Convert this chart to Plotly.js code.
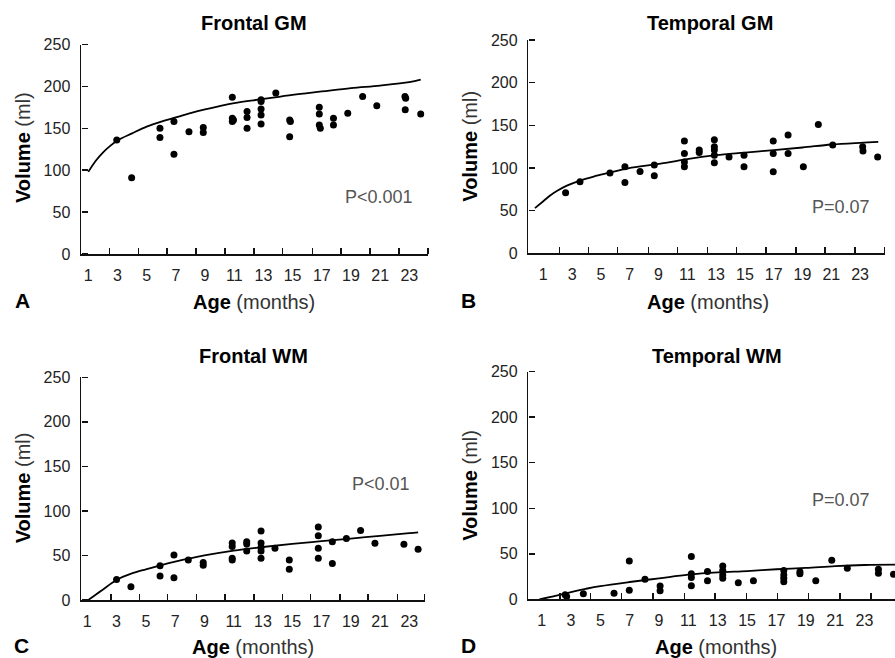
<!DOCTYPE html>
<html><head><meta charset="utf-8">
<script src="https://cdn.plot.ly/plotly-3.0.1.min.js"></script>
<style>html,body{margin:0;padding:0;background:#fff}#chart{width:895px;height:658px}</style>
</head><body><div id="chart"></div>
<script>
// ---------- data (age in months, volume in ml) ----------
const panelTitles = ["Frontal GM", "Temporal GM", "Frontal WM", "Temporal WM"];
const panelLetters = ["A", "B", "C", "D"];
const pValues = ["P&lt;0.001", "P=0.07", "P&lt;0.01", "P=0.07"];
const xTickLabels = [1,3,5,7,9,11,13,15,17,19,21,23];
const yTickValues = [0,50,100,150,200,250];

const ageA = [2.95,3.97,5.91,5.91,6.87,6.87,7.9,8.88,8.88,10.87,10.87,10.87,10.95,11.88,11.88,11.88,12.84,12.84,12.84,12.84,12.84,13.85,14.8,14.85,14.8,16.83,16.83,16.83,16.9,17.8,17.8,18.78,19.8,20.77,22.7,22.75,22.72,23.78];
const volA = [136,91,150,139,158,119,146,151,145,187,162,158,160,170,163,150,184,182,173,166,155,192,160,158,140,175,167,154,150,162,154,168,188,177,188,186,172,167];
const fitAgeA = [1,1.5,2,2.5,3,4,5,6,7,8,9,10,11,13,15,17,19,21,23,23.78];
const fitVolA = [98,111,121,129,135.5,144,152,158,163,168,172.5,176.5,180,185,190,194,198,201,205,208];

const ageB = [2.55,3.55,5.63,6.67,6.67,7.72,8.71,8.71,10.8,10.8,10.8,10.8,11.83,11.83,12.88,12.88,12.88,12.88,12.88,13.9,14.94,14.94,16.97,16.97,16.97,18.0,18.0,19.06,20.1,21.1,23.18,23.2,24.22];
const volB = [71,84,94,101.5,83,96,103.5,91,131.6,117,107,101.5,121,118,133,125,121,115,106,113,115,101.5,131.6,117,95.6,138.6,117,101.5,151,127,125,120,113];
const fitAgeB = [0.42,1,1.5,2,2.6,3.5,4.5,5.6,6.7,8,9.5,11,13,15,17,19,21,23,24.26];
const fitVolB = [53,61,68,73.5,79,85,90,94.5,99,102.5,106,110.5,115,118,121,124,127.5,129.5,130.5];

const ageC = [3.0,3.98,5.97,5.97,6.92,6.92,7.9,8.92,8.92,10.9,10.9,10.9,10.9,11.89,11.89,11.89,12.87,12.87,12.87,12.87,12.87,13.82,14.8,14.8,16.78,16.78,16.78,16.78,17.74,17.74,18.7,19.67,20.65,22.63,23.6];
const volC = [23,15,38.5,27,50.5,25,45,42,39,64,60,47,45,65.5,63,55,77.5,64,59,55,47,58,45,34.5,82,72,58,47,65.5,41,69,78,63.6,62.5,57];
const fitAgeC = [1.07,2,3,4,5,6,7,9,11,13,15,17,19,21,23,23.6];
const fitVolC = [0,11,22.5,29.5,34.5,39,43,50,55.5,59.5,63,66,69,72,75,76];

const ageD = [2.6,2.7,3.84,5.93,6.97,6.97,8.04,9.07,9.07,11.2,11.2,11.2,11.2,12.3,12.3,13.34,13.34,13.34,13.34,14.4,15.43,17.5,17.5,17.5,17.5,18.6,18.6,19.68,20.77,21.83,23.95,23.95,24.98];
const volD = [5,3,6,6.6,42,10,22,14.6,9.5,47,28,24,15,30.5,20.5,36.6,31.5,26.7,23,18.3,20.5,31.5,26.7,23,19.3,30.3,28,20.5,43,34,33,28.5,27.5];
const fitAgeD = [0.84,2,3,4,5,7,9,11,13,15,17,19,21,23,25.1];
const fitVolD = [0,4,8,11.5,14.5,19,23,27,29.5,31,33,34.5,36.5,37.7,38];

// ---------- layout helpers ----------
const W = 895, H = 658;
const fx = x => x / W, fy = y => 1 - y / H;
const FONT = "Liberation Sans, Arial, sans-serif";

const panels = [
  {ages: ageA, vols: volA, fa: fitAgeA, fv: fitVolA},
  {ages: ageB, vols: volB, fa: fitAgeB, fv: fitVolB},
  {ages: ageC, vols: volC, fa: fitAgeC, fv: fitVolC},
  {ages: ageD, vols: volD, fa: fitAgeD, fv: fitVolD}
];

// pixel geometry of each plot frame, x ranges (months) and tick-mark positions
const geom = [
  {x0: 81, x1: 428.3, yTop: 44.5, yBot: 254, range: [0.5, 24.3],
   marks: [2.44,4.43,6.41,8.38,10.37,12.36,14.32,16.35,18.3,20.31,22.3,24.28]},
  {x0: 528.3, x1: 885, yTop: 40, yBot: 253.3, range: [-0.04, 24.73],
   marks: [2.11,4.13,6.17,8.29,10.33,12.39,14.43,16.47,18.55,20.55,22.63,24.7]},
  {x0: 81, x1: 425, yTop: 377.3, yBot: 600, range: [0.57, 24.07],
   marks: [2.62,4.55,6.49,8.47,10.41,12.39,14.35,16.26,18.26,20.19,22.2,24.05]},
  {x0: 528.3, x1: 895, yTop: 371.7, yBot: 599.3, range: [0.087, 25.08],
   marks: [2.25,4.34,6.45,8.6,10.72,12.81,14.97,17.06,19.17,21.33,23.45]}
];

const labelPos = [
  {title: [254, 22.7], age: [254, 301.7], vol: [23, 148], letter: [22, 301], p: [379, 196.7]},
  {title: [710, 22.7], age: [708.3, 301.7], vol: [470, 146.7], letter: [469, 301], p: [840.7, 206.7]},
  {title: [253.3, 355.7], age: [252.5, 647], vol: [23.3, 488], letter: [21.7, 645], p: [381, 484]},
  {title: [716.7, 355.7], age: [715.8, 647], vol: [470, 485.8], letter: [469, 645], p: [840.7, 500]}
];

const traces = [];
const layout = {
  width: W, height: H,
  margin: {l: 0, r: 0, t: 0, b: 0},
  paper_bgcolor: "#fff", plot_bgcolor: "rgba(0,0,0,0)",
  showlegend: false,
  font: {family: FONT, color: "#000"},
  annotations: []
};

panels.forEach((p, i) => {
  const n = i === 0 ? "" : String(i + 1);
  const k = String(i + 5);
  const g = geom[i];
  traces.push({
    type: "scatter", mode: "lines", x: p.fa, y: p.fv,
    xaxis: "x" + n, yaxis: "y" + n,
    line: {color: "#000", width: 1.8, shape: "spline", smoothing: 1},
    hoverinfo: "skip"
  });
  traces.push({
    type: "scatter", mode: "markers", x: p.ages, y: p.vols,
    xaxis: "x" + n, yaxis: "y" + n,
    marker: {color: "#000", size: 7, line: {width: 0}}
  });
  // empty trace that creates the overlay subplot used for the tick marks
  traces.push({type: "scatter", mode: "markers", x: [], y: [], xaxis: "x" + k, yaxis: "y" + k});

  // main axes: lines and labels
  layout["xaxis" + n] = {
    domain: [fx(g.x0), fx(g.x1)], range: g.range, anchor: "y" + n,
    tickmode: "array", tickvals: xTickLabels, ticktext: xTickLabels.map(String),
    ticks: "", showgrid: false, zeroline: false,
    showline: true, linecolor: "#111", linewidth: 1.5,
    tickfont: {family: FONT, size: 16, color: "#222"},
    ticklabelstandoff: 6,
    fixedrange: true
  };
  layout["yaxis" + n] = {
    domain: [fy(g.yBot), fy(g.yTop)], range: [0, 250], anchor: "x" + n,
    tickmode: "array", tickvals: yTickValues,
    ticks: "", showgrid: false, zeroline: false,
    showline: true, linecolor: "#111", linewidth: 1.5,
    tickfont: {family: FONT, size: 16, color: "#222"},
    ticklabelstandoff: 6,
    fixedrange: true
  };
  // overlay axes: tick marks pointing into the plot
  layout["xaxis" + k] = {
    overlaying: "x" + n, side: "top", anchor: "free", position: fy(g.yBot),
    range: g.range, tickmode: "array", tickvals: g.marks,
    ticks: "outside", ticklen: 6, tickwidth: 1.5, tickcolor: "#111",
    showticklabels: false, showline: false, showgrid: false, zeroline: false,
    fixedrange: true
  };
  layout["yaxis" + k] = {
    overlaying: "y" + n, side: "right", anchor: "free", position: fx(g.x0),
    range: [0, 250], tickmode: "array", tickvals: yTickValues,
    ticks: "outside", ticklen: 6, tickwidth: 1.5, tickcolor: "#111",
    showticklabels: false, showline: false, showgrid: false, zeroline: false,
    fixedrange: true
  };
  const L = labelPos[i];
  const ann = (pos, text, size, extra) => Object.assign({
    xref: "paper", yref: "paper", x: fx(pos[0]), y: fy(pos[1]),
    xanchor: "center", yanchor: "middle", showarrow: false, text: text,
    font: {family: FONT, size: size, color: "#000"}
  }, extra || {});
  layout.annotations.push(ann(L.title, "<b>" + panelTitles[i] + "</b>", 20));
  layout.annotations.push(ann(L.age, "<b>Age</b> <span style='color:#333'>(months)</span>", 20));
  layout.annotations.push(ann(L.vol, "<b>Volume</b> <span style='color:#333'>(ml)</span>", 20, {textangle: -90}));
  layout.annotations.push(ann(L.letter, "<b>" + panelLetters[i] + "</b>", 21));
  layout.annotations.push(ann(L.p, pValues[i], 18, {font: {family: FONT, size: 18, color: "#555"}}));
});

Plotly.newPlot("chart", traces, layout, {staticPlot: true, displayModeBar: false});
</script>
</body></html>
